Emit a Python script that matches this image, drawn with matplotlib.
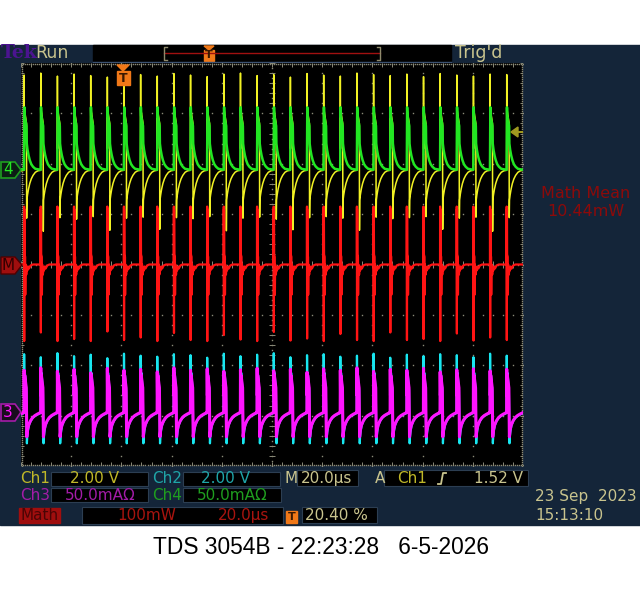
# Tek TDS 3054B screen capture: 4 channels + math trace
import numpy as np
import matplotlib.pyplot as plt
from matplotlib.patches import Rectangle, Polygon

# ---- data (time in us, amplitude in divisions) ----
# rising edges of the switching waveform across the 200 us record
EDGES = [-5.43, 1.20, 7.83, 14.46, 21.09, 27.72, 34.35, 40.98, 47.61, 54.24,
         60.87, 67.50, 74.13, 80.76, 87.39, 94.02, 100.65, 107.28, 113.91,
         120.54, 127.17, 133.80, 140.43, 147.06, 153.69, 160.32, 166.95,
         173.58, 180.21, 186.84, 193.47]

# one period of each channel, offset from its edge
CH1_T = [0.0, 0.05, 0.12, 0.25, 1.0, 1.05, 1.15, 1.4, 1.8, 2.3, 2.9, 3.6, 4.5, 5.5, 6.5]
CH1_V = [1.87, 3.76, 2.3, 3.05, 2.8, 0.9, 1.28, 1.38, 1.50, 1.61, 1.70, 1.77, 1.83, 1.86, 1.87]
CH4_T = [0.0, 0.15, 0.25, 1.0, 1.1, 1.4, 1.8, 2.3, 2.9, 3.6, 4.5, 5.5, 6.5]
CH4_V = [1.88, 3.12, 2.95, 2.75, 2.40, 2.28, 2.17, 2.07, 1.99, 1.94, 1.90, 1.89, 1.88]
MATH_T = [0.0, 0.03, 0.08, 0.13, 0.2, 0.45, 0.5, 0.6, 0.75, 0.9, 1.1, 1.3, 1.6, 2.0, 2.6, 3.5, 6.5]
MATH_V = [0.0, 1.15, -1.5, 1.1, 0.2, 0.15, -0.6, 0.0, -0.1, -0.2, -0.05, -0.12, -0.04, -0.08, -0.02, 0.0, 0.0]
CH3_T = [0.0, 0.05, 0.15, 0.3, 0.9, 1.0, 1.1, 1.4, 1.9, 2.6, 3.4, 4.3, 5.3, 6.5]
CH3_V = [-2.94, -2.08, -2.6, -2.2, -2.45, -3.0, -3.42, -3.28, -3.18, -3.10, -3.04, -3.0, -2.97, -2.94]
CH2_T = [0.0, 0.05, 0.15, 0.35, 0.9, 1.15, 1.25, 1.5, 1.9, 2.6, 3.4, 4.3, 5.3, 6.5]
CH2_V = [-2.95, -1.80, -2.4, -2.15, -2.5, -3.55, -3.45, -3.32, -3.2, -3.11, -3.05, -3.01, -2.98, -2.95]

# pulse-to-pulse spread of the extremes
CH1_PEAK = [3.78, 3.76, 3.80, 3.74, 3.78, 3.75, 3.72, 3.80, 3.77, 3.74, 3.79, 3.76,
            3.73, 3.78, 3.80, 3.75, 3.77, 3.72, 3.79, 3.76, 3.74, 3.80, 3.77, 3.75,
            3.78, 3.73, 3.79, 3.76, 3.74, 3.78, 3.77]
CH1_DIP = [0.95, 0.92, 0.66, 0.93, 0.90, 0.95, 0.68, 0.92, 0.94, 0.70, 0.93, 0.91,
           0.95, 0.67, 0.92, 0.94, 0.90, 0.69, 0.93, 0.95, 0.92, 0.68, 0.94, 0.91,
           0.93, 0.95, 0.70, 0.92, 0.94, 0.66, 0.93]
MATH_NEG = [-1.50, -1.52, -1.35, -1.52, -1.48, -1.52, -1.33, -1.50, -1.45, -1.52, -1.36,
            -1.50, -1.52, -1.40, -1.49, -1.52, -1.34, -1.51, -1.47, -1.52, -1.38, -1.50,
            -1.52, -1.35, -1.50, -1.48, -1.52, -1.37, -1.51, -1.45, -1.50]
CH3_PEAK = [-2.08, -2.10, -2.05, -2.12, -2.08, -2.15, -2.06, -2.10, -2.08, -2.13, -2.05,
            -2.10, -2.07, -2.12, -2.09, -2.06, -2.11, -2.08, -2.14, -2.07, -2.10, -2.05,
            -2.12, -2.08, -2.10, -2.06, -2.13, -2.09, -2.07, -2.11, -2.08]
CH2_PEAK = [-1.80, -1.78, -1.84, -1.76, -1.82, -1.79, -1.86, -1.77, -1.81, -1.83, -1.78,
            -1.80, -1.85, -1.77, -1.82, -1.79, -1.76, -1.84, -1.80, -1.78, -1.83, -1.81,
            -1.77, -1.85, -1.79, -1.82, -1.78, -1.80, -1.84, -1.77, -1.81]

NAVY = '#142539'
KHAKI = '#c9c48e'
ORANGE = '#f07818'
GRID = '#8a8a78'
C1, C2, C3, C4, CM = '#f2f224', '#18e6f0', '#ff14ff', '#22e622', '#ff1414'
T1, T2, T3, T4, TM = '#c0b828', '#1fa5a8', '#a41ca8', '#1f9e1f', '#a8140f'


def trace(tt, tv, idx=None, vals=None):
    t, v = [], []
    for k, e in enumerate(EDGES):
        row = list(tv)
        if vals is not None:
            row[idx] = vals[k]
        t.extend(e + np.array(tt))
        v.extend(row)
    return np.array(t), np.array(v)


def px(x0, y0, x1, y1):
    return [x0 / 640, 1 - y1 / 600, (x1 - x0) / 640, (y1 - y0) / 600]


fig = plt.figure(figsize=(6.4, 6.0), dpi=100, facecolor='white')

# background layer in pixel coords
ov = fig.add_axes([0, 0, 1, 1], zorder=0)
ov.set_xlim(0, 640)
ov.set_ylim(600, 0)
ov.axis('off')
ov.add_patch(Rectangle((0, 45), 640, 480, color=NAVY))

# header bar
ov.add_patch(Rectangle((93, 45), 358, 16, color='black'))
ov.plot([93, 451], [61.5, 61.5], color='#3c5272', lw=1)
ov.plot([164, 380], [53, 53], color='#a01010', lw=1)
for bx, d in [(164, 3), (380, -3)]:
    ov.plot([bx + d, bx, bx, bx + d], [47, 47, 60, 60], color='#8f8a6c', lw=1)
ov.add_patch(Polygon([[204, 46], [214, 46], [209, 50]], color=ORANGE))
ov.add_patch(Rectangle((204, 50), 10, 11, color=ORANGE))
ov.text(209, 55.5, 'T', color='#3a1800', fontsize=8, fontweight='bold', ha='center', va='center')
ov.text(1, 53, 'Tek', color='#4b1490', fontsize=13.5, fontweight='bold', family='DejaVu Serif',
        va='center')
ov.text(35, 53, 'Run', color=KHAKI, fontsize=12.5, va='center')
ov.text(455, 53, "Trig'd", color=KHAKI, fontsize=12.5, va='center')

# math readout on the right
ov.text(586, 194, 'Math Mean', color='#8c0a0a', fontsize=11.5, ha='center', va='center')
ov.text(586, 212, '10.44mW', color='#8c0a0a', fontsize=11.5, ha='center', va='center')

# status area
boxes = [(51, 472, 148, 486), (183, 472, 280, 486), (297, 470, 358, 486), (384, 470, 528, 486),
         (51, 488, 148, 502), (183, 488, 281, 502), (82, 507, 283, 524), (302, 507, 377, 523)]
for x0, y0, x1, y1 in boxes:
    ov.add_patch(Rectangle((x0, y0), x1 - x0, y1 - y0, facecolor='black', edgecolor='#2c3e52', lw=0.8))
fs = 11
r1, r2, r3 = 478.5, 495.5, 515.5
ov.text(20, r1, 'Ch1', color=T1, fontsize=fs, va='center')
ov.text(70, r1, '2.00 V', color=T1, fontsize=fs, va='center')
ov.text(152, r1, 'Ch2', color=T2, fontsize=fs, va='center')
ov.text(201, r1, '2.00 V', color=T2, fontsize=fs, va='center')
ov.text(284, r1, 'M', color=KHAKI, fontsize=fs, va='center')
ov.text(301, r1, '20.0µs', color=KHAKI, fontsize=fs, va='center')
ov.text(375, r1, 'A', color=KHAKI, fontsize=fs, va='center')
ov.text(397, r1, 'Ch1', color=T1, fontsize=fs, va='center')
ov.plot([438, 441, 443, 446], [484, 484, 473, 473], color=KHAKI, lw=1.3)
ov.text(523, r1, '1.52 V', color=KHAKI, fontsize=fs, va='center', ha='right')
ov.text(20, r2, 'Ch3', color=T3, fontsize=fs, va='center')
ov.text(65, r2, '50.0mAΩ', color=T3, fontsize=fs, va='center')
ov.text(152, r2, 'Ch4', color=T4, fontsize=fs, va='center')
ov.text(197, r2, '50.0mAΩ', color=T4, fontsize=fs, va='center')
ov.add_patch(Rectangle((19, 508), 41, 15, color='#a00e0e'))
ov.text(21, r3, 'Math', color='#4a0505', fontsize=fs, va='center')
ov.text(117, r3, '100mW', color=TM, fontsize=fs, va='center')
ov.text(218, r3, '20.0µs', color=TM, fontsize=fs, va='center')
ov.add_patch(Rectangle((286, 511), 11, 12, color=ORANGE))
ov.text(291.5, 517, 'T', color='#3a1800', fontsize=8, fontweight='bold', ha='center', va='center')
ov.text(305, r3, '20.40 %', color=KHAKI, fontsize=fs, va='center')
ov.text(535, 497, '23 Sep  2023', color=KHAKI, fontsize=11, va='center')
ov.text(535, 516, '15:13:10', color=KHAKI, fontsize=11, va='center')

# caption below the screen
ov.text(321, 548, 'TDS 3054B - 22:23:28   6-5-2026', color='black', fontsize=16.4,
        family='Liberation Sans', ha='center', va='center')

# graticule
ax = fig.add_axes(px(21, 63, 523, 466), zorder=1)
ax.set_facecolor('black')
ax.set_xlim(0, 200)
ax.set_ylim(-4, 4)
ax.set_xticks([])
ax.set_yticks([])
for s in ax.spines.values():
    s.set_visible(False)

dot = dict(ls='none', marker='s', ms=1.0, mew=0, color=GRID)
ys = np.arange(-4, 4.01, 0.2)
xs = np.arange(0, 200.1, 4)
for gx in [20, 40, 60, 80, 120, 140, 160, 180]:
    ax.plot(np.full_like(ys, gx), ys, **dot)
for gy in [-3, -2, -1, 1, 2, 3]:
    ax.plot(xs, np.full_like(xs, gy), **dot)
yc = np.arange(-4, 4.01, 0.1)
xc = np.arange(0, 200.1, 2)
ax.plot(np.full_like(yc, 100), yc, **dot)
ax.plot(xc, np.zeros_like(xc), **dot)
ax.hlines(ys, 98.8, 101.2, color=GRID, lw=0.7)
ax.vlines(xs, -0.06, 0.06, color=GRID, lw=0.7)
# frame: fine dots with inward ticks
xf = np.arange(0, 200.1, 0.8)
yf = np.arange(-4, 4.01, 0.04)
ax.plot(xf, np.full_like(xf, 3.98), **dot)
ax.plot(xf, np.full_like(xf, -3.98), **dot)
ax.plot(np.full_like(yf, 0.3), yf, **dot)
ax.plot(np.full_like(yf, 199.7), yf, **dot)
ax.vlines(xs, 3.92, 4.0, color=GRID, lw=0.7)
ax.vlines(xs, -4.0, -3.92, color=GRID, lw=0.7)
ax.hlines(ys, 0, 1.2, color=GRID, lw=0.7)
ax.hlines(ys, 198.8, 200, color=GRID, lw=0.7)

# waveforms
t, v = trace(CH1_T, CH1_V, 1, CH1_PEAK)
v[5::len(CH1_T)] = CH1_DIP
ax.plot(t, v, color=C1, lw=1.1)
t, v = trace(CH4_T, CH4_V)
ax.plot(t, v, color=C4, lw=1.8)
t, v = trace(CH2_T, CH2_V, 1, CH2_PEAK)
ax.plot(t, v, color=C2, lw=1.6)
t, v = trace(CH3_T, CH3_V, 1, CH3_PEAK)
ax.plot(t, v, color=C3, lw=2.2)
t, v = trace(MATH_T, MATH_V, 2, MATH_NEG)
ax.plot(t, v, color=CM, lw=1.6)

# foreground markers
fg = fig.add_axes([0, 0, 1, 1], zorder=2)
fg.set_xlim(0, 640)
fg.set_ylim(600, 0)
fg.axis('off')
fg.patch.set_alpha(0)
fg.add_patch(Polygon([[1, 162], [15, 162], [21, 170], [15, 178], [1, 178]],
                     facecolor='#0c1c14', edgecolor=T4, lw=1.2))
fg.text(8, 170, '4', color=C4, fontsize=11, ha='center', va='center')
fg.add_patch(Polygon([[1, 257], [15, 257], [22, 265], [15, 274], [1, 274]],
                     facecolor='#a00e0e', edgecolor='#500000', lw=1))
fg.text(8.5, 265.5, 'M', color='#300000', fontsize=11, ha='center', va='center')
fg.add_patch(Polygon([[1, 404], [15, 404], [21, 412], [15, 421], [1, 421]],
                     facecolor='#1a0c1e', edgecolor=T3, lw=1.2))
fg.text(8, 412.5, '3', color=C3, fontsize=11, ha='center', va='center')
# trigger position marker
fg.add_patch(Polygon([[117, 65], [129, 65], [123, 71]], color=ORANGE))
fg.add_patch(Rectangle((117, 71), 13, 14, color=ORANGE))
fg.text(123.5, 78, 'T', color='#3a1800', fontsize=9, fontweight='bold', ha='center', va='center')
# trigger level arrow
fg.add_patch(Polygon([[511, 132], [518, 127], [518, 137]], color='#a09a20'))
fg.plot([518, 522], [132, 132], color='#a09a20', lw=1.5)

fig.savefig('out.png', dpi=100, facecolor='white')
